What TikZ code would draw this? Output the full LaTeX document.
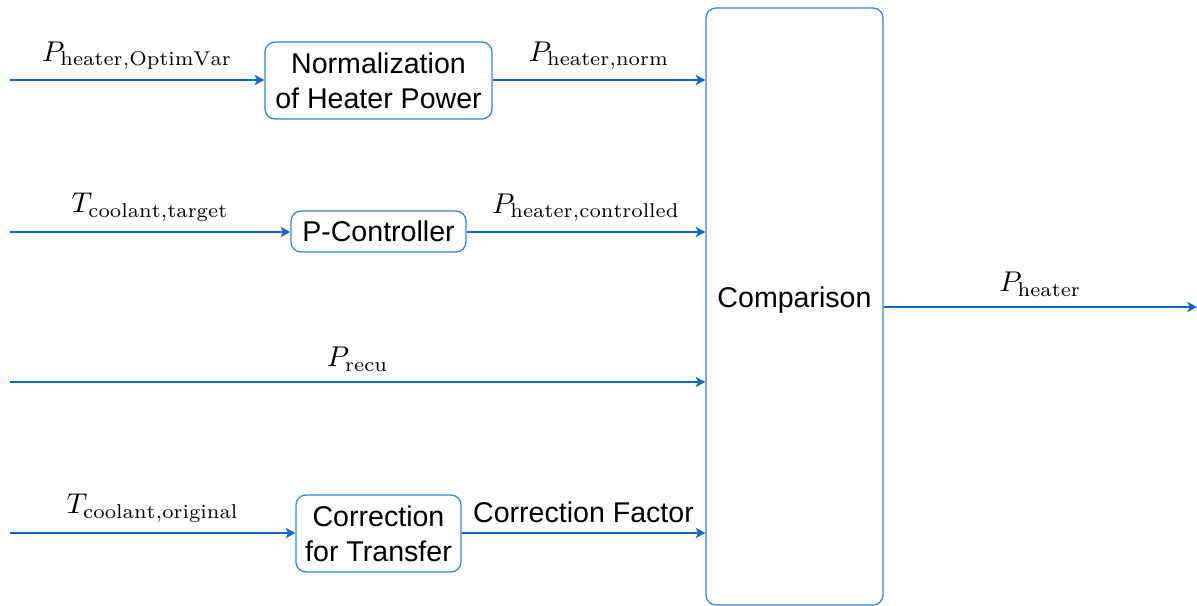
\documentclass[tikz,border=0pt]{standalone}
\usepackage{fontspec}
\setsansfont{Liberation Sans}
\usetikzlibrary{arrows.meta}
\definecolor{arrowblue}{RGB}{18,102,196}
\definecolor{boxblue}{RGB}{50,130,215}
\begin{document}
\begin{tikzpicture}[x=0.35pt,y=-0.35pt,
  blockbox/.style={draw=boxblue,line width=0.45pt,rounded corners=3.5pt,align=center,
    font=\sffamily\fontsize{10}{12.2}\selectfont,inner sep=0pt},
  flow/.style={draw=arrowblue,line width=0.7pt,-{Stealth[length=3.4pt,width=3.6pt,inset=0.9pt]}},
  lab/.style={above,inner sep=0pt,yshift=3.4pt}]
\useasboundingbox (0,0) rectangle (1197,606);
% boxes
\node[blockbox,minimum width=227*0.35pt,minimum height=77*0.35pt] (norm) at (378.5,80.5) {Normalization\\of Heater Power};
\node[blockbox,minimum width=175*0.35pt,minimum height=41*0.35pt] (pc) at (378.5,231.5) {P-Controller};
\node[blockbox,minimum width=165*0.35pt,minimum height=77*0.35pt] (corr) at (378.5,533.5) {Correction\\for Transfer};
\node[blockbox,minimum width=177*0.35pt,minimum height=597*0.35pt] (cmp) at (794.5,306.5) {\raisebox{2.1pt}[\height][\depth]{Comparison}};
% free ends
\coordinate (in1) at (10,80);
\coordinate (in2) at (10,232);
\coordinate (in3) at (10,382);
\coordinate (in4) at (10,533);
\coordinate (out) at (1197,307);
% connectors
\draw[flow] (in1) -- node[lab]{$P_{\mathrm{heater,OptimVar}}$} (norm.west |- in1);
\draw[flow] (norm.east |- in1) -- node[lab]{$P_{\mathrm{heater,norm}}$} (cmp.west |- in1);
\draw[flow] (in2) -- node[lab]{$T_{\mathrm{coolant,target}}$} (pc.west |- in2);
\draw[flow] (pc.east |- in2) -- node[lab]{$P_{\mathrm{heater,controlled}}$} (cmp.west |- in2);
\draw[flow] (in3) -- node[lab]{$P_{\mathrm{recu}}$} (cmp.west |- in3);
\draw[flow] (in4) -- node[lab]{$T_{\mathrm{coolant,original}}$} (corr.west |- in4);
\draw[flow] (corr.east |- in4) -- node[lab,font=\sffamily\fontsize{10}{11.2}\selectfont]{Correction Factor} (cmp.west |- in4);
\draw[flow] (cmp.east |- out) -- node[lab]{$P_{\mathrm{heater}}$} (out);
\end{tikzpicture}
\end{document}
